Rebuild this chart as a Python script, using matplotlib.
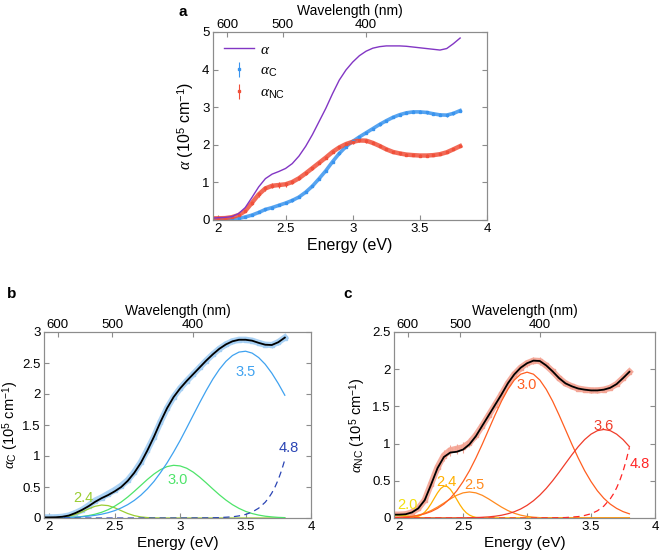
import numpy as np
import matplotlib
matplotlib.use('Agg')
import matplotlib.pyplot as plt
from matplotlib.ticker import FuncFormatter

plt.rcParams['font.family'] = ['Liberation Sans', 'DejaVu Sans']
plt.rcParams['mathtext.fontset'] = 'custom'
plt.rcParams['mathtext.rm'] = 'Liberation Sans'
plt.rcParams['mathtext.it'] = 'Liberation Serif:italic'
plt.rcParams['mathtext.bf'] = 'Liberation Sans:bold'

# ---------------- data ----------------
energy = [1.95, 2.00, 2.05, 2.10, 2.15, 2.20, 2.25, 2.30, 2.35, 2.40,
          2.45, 2.50, 2.55, 2.60, 2.65, 2.70, 2.75, 2.80, 2.85, 2.90,
          2.95, 3.00, 3.05, 3.10, 3.15, 3.20, 3.25, 3.30, 3.35, 3.40,
          3.45, 3.50, 3.55, 3.60, 3.65, 3.70, 3.75, 3.80]

alpha_total = [0.05, 0.06, 0.07, 0.09, 0.17, 0.33, 0.60, 0.88, 1.10, 1.22,
               1.29, 1.37, 1.50, 1.70, 1.96, 2.27, 2.62, 2.97, 3.36, 3.72,
               3.99, 4.20, 4.37, 4.49, 4.57, 4.61, 4.63, 4.63, 4.63, 4.62,
               4.60, 4.58, 4.56, 4.54, 4.52, 4.56, 4.69, 4.84]

alpha_C = [0.01, 0.01, 0.012, 0.02, 0.04, 0.08, 0.13, 0.20, 0.28, 0.33,
           0.39, 0.45, 0.52, 0.61, 0.74, 0.90, 1.10, 1.31, 1.55, 1.77,
           1.95, 2.09, 2.21, 2.32, 2.43, 2.54, 2.64, 2.73, 2.80, 2.85,
           2.875, 2.875, 2.86, 2.825, 2.795, 2.79, 2.835, 2.91]
err_C = [0.01, 0.01, 0.01, 0.01, 0.01, 0.02, 0.02, 0.02, 0.03, 0.03,
         0.03, 0.03, 0.03, 0.03, 0.03, 0.03, 0.03, 0.03, 0.03, 0.03,
         0.03, 0.03, 0.03, 0.03, 0.03, 0.03, 0.03, 0.03, 0.04, 0.04,
         0.04, 0.04, 0.04, 0.04, 0.04, 0.04, 0.04, 0.04]

alpha_NC = [0.045, 0.045, 0.05, 0.075, 0.13, 0.24, 0.46, 0.68, 0.84, 0.91,
            0.93, 0.95, 1.01, 1.11, 1.24, 1.38, 1.52, 1.66, 1.81, 1.93,
            2.02, 2.08, 2.115, 2.11, 2.05, 1.97, 1.88, 1.81, 1.77, 1.74,
            1.725, 1.715, 1.715, 1.725, 1.75, 1.80, 1.88, 1.965]
err_NC = [0.01, 0.01, 0.01, 0.01, 0.02, 0.03, 0.05, 0.06, 0.07, 0.07,
          0.07, 0.07, 0.06, 0.05, 0.04, 0.04, 0.04, 0.04, 0.04, 0.04,
          0.05, 0.05, 0.05, 0.05, 0.04, 0.04, 0.03, 0.03, 0.03, 0.03,
          0.03, 0.03, 0.03, 0.03, 0.03, 0.03, 0.03, 0.03]

fit_C = [0.01, 0.01, 0.012, 0.02, 0.04, 0.08, 0.13, 0.19, 0.26, 0.32,
         0.37, 0.43, 0.50, 0.60, 0.73, 0.89, 1.09, 1.31, 1.55, 1.77,
         1.95, 2.09, 2.21, 2.32, 2.43, 2.54, 2.64, 2.73, 2.80, 2.85,
         2.875, 2.875, 2.86, 2.825, 2.795, 2.79, 2.835, 2.91]

fit_NC = [0.045, 0.045, 0.05, 0.075, 0.13, 0.24, 0.45, 0.67, 0.82, 0.88,
          0.89, 0.92, 0.99, 1.10, 1.24, 1.38, 1.52, 1.66, 1.81, 1.93,
          2.02, 2.08, 2.115, 2.11, 2.05, 1.97, 1.88, 1.81, 1.77, 1.74,
          1.725, 1.715, 1.715, 1.725, 1.75, 1.80, 1.88, 1.965]

# ---- Gaussian components of alpha_C (panel b) ----
cC24_E = [1.95, 2.00, 2.05, 2.10, 2.15, 2.20, 2.25, 2.30, 2.35, 2.40,
          2.45, 2.50, 2.55, 2.60, 2.65, 2.70, 2.75, 2.80, 2.90, 3.80]
cC24 = [0.0, 0.002, 0.005, 0.012, 0.028, 0.057, 0.098, 0.147, 0.189, 0.209,
        0.200, 0.165, 0.118, 0.072, 0.038, 0.017, 0.007, 0.002, 0.0, 0.0]

cC30 = [0.001, 0.001, 0.002, 0.0045, 0.008, 0.014, 0.024, 0.039, 0.061, 0.092,
        0.134, 0.19, 0.258, 0.339, 0.43, 0.526, 0.622, 0.709, 0.78, 0.829,
        0.85, 0.84, 0.803, 0.74, 0.658, 0.565, 0.468, 0.374, 0.289, 0.215,
        0.155, 0.107, 0.072, 0.047, 0.029, 0.018, 0.010, 0.006]

cC35 = [0.0014, 0.0023, 0.0037, 0.0057, 0.0088, 0.013, 0.020, 0.030, 0.043, 0.061,
        0.086, 0.119, 0.162, 0.216, 0.284, 0.368, 0.470, 0.589, 0.732, 0.888,
        1.063, 1.25, 1.452, 1.658, 1.862, 2.058, 2.24, 2.398, 2.527, 2.621,
        2.676, 2.69, 2.66, 2.588, 2.48, 2.338, 2.169, 1.98]

cC48_E = [1.95, 2.5, 3.0, 3.2, 3.3, 3.4, 3.45, 3.5, 3.55, 3.6, 3.65,
          3.675, 3.7, 3.725, 3.75, 3.775, 3.8]
cC48 = [0.0, 0.0, 0.0, 0.002, 0.006, 0.019, 0.034, 0.057, 0.096, 0.158, 0.254,
        0.32, 0.401, 0.50, 0.62, 0.766, 0.94]

# ---- Gaussian components of alpha_NC (panel c) ----
cN20_E = [1.95, 2.00, 2.05, 2.10, 2.15, 2.20, 2.25, 3.80]
cN20 = [0.03, 0.035, 0.03, 0.018, 0.008, 0.002, 0.0, 0.0]

cN24_E = [1.95, 2.05, 2.10, 2.15, 2.175, 2.20, 2.225, 2.25, 2.275, 2.30,
          2.325, 2.35, 2.375, 2.40, 2.425, 2.45, 2.475, 2.50, 2.525, 2.55,
          2.575, 2.60, 2.65, 2.70, 3.80]
cN24 = [0.0, 0.001, 0.005, 0.023, 0.044, 0.078, 0.128, 0.192, 0.266, 0.338,
        0.396, 0.427, 0.424, 0.386, 0.324, 0.251, 0.178, 0.116, 0.070, 0.039,
        0.020, 0.009, 0.002, 0.0, 0.0]

cN25_E = [1.95, 2.00, 2.05, 2.10, 2.15, 2.20, 2.25, 2.30, 2.35, 2.40,
          2.45, 2.50, 2.55, 2.60, 2.65, 2.70, 2.75, 2.80, 2.85, 2.90,
          2.95, 3.00, 3.05, 3.10, 3.15, 3.20, 3.30, 3.80]
cN25 = [0.0024, 0.0052, 0.011, 0.021, 0.038, 0.064, 0.100, 0.147, 0.201, 0.256,
        0.305, 0.338, 0.35, 0.338, 0.305, 0.256, 0.201, 0.147, 0.100, 0.064,
        0.038, 0.021, 0.011, 0.005, 0.0024, 0.001, 0.0, 0.0]

cN30 = [0.004, 0.0075, 0.013, 0.022, 0.035, 0.056, 0.086, 0.129, 0.187, 0.265,
        0.365, 0.49, 0.636, 0.806, 0.992, 1.189, 1.385, 1.57, 1.729, 1.854,
        1.933, 1.96, 1.933, 1.854, 1.729, 1.57, 1.385, 1.189, 0.992, 0.806,
        0.636, 0.49, 0.365, 0.265, 0.187, 0.129, 0.086, 0.056]

cN36_E = [1.95, 2.40, 2.50, 2.60, 2.70, 2.75, 2.80, 2.85, 2.90, 2.95,
          3.00, 3.05, 3.10, 3.15, 3.20, 3.25, 3.30, 3.35, 3.40, 3.45,
          3.50, 3.55, 3.60, 3.65, 3.70, 3.75, 3.80]
cN36 = [0.0, 0.0005, 0.002, 0.005, 0.015, 0.024, 0.037, 0.057, 0.084, 0.121,
        0.170, 0.232, 0.308, 0.398, 0.501, 0.614, 0.732, 0.849, 0.959, 1.054,
        1.127, 1.174, 1.19, 1.174, 1.127, 1.054, 0.959]

cN48_E = [1.95, 3.0, 3.2, 3.3, 3.4, 3.45, 3.5, 3.55, 3.6, 3.65,
          3.675, 3.7, 3.725, 3.75, 3.775, 3.8]
cN48 = [0.0, 0.0, 0.002, 0.006, 0.019, 0.034, 0.057, 0.097, 0.16, 0.257,
        0.323, 0.405, 0.505, 0.627, 0.775, 0.95]

wavelength_ticks = [600, 500, 400]
HC = 1239.84  # eV nm

# ---------------- styling ----------------
PURPLE = '#8236C4'
BLUE = '#3A94EE'
RED = '#F0503A'
BLUE_LIGHT = '#A4CFF4'
RED_LIGHT = '#F4A494'
SPINE = '#8C8C8C'

fig = plt.figure(figsize=(6.6, 5.6), dpi=100)
fmt = FuncFormatter(lambda v, p: f'{v:g}')


def style_axes(ax, ylim, yticks, xfs=11):
    ax.set_xlim(1.96, 4)
    ax.set_ylim(*ylim)
    ax.set_xticks([2, 2.5, 3, 3.5, 4])
    ax.set_yticks(yticks)
    ax.xaxis.set_major_formatter(fmt)
    ax.yaxis.set_major_formatter(fmt)
    ax.tick_params(direction='in', length=3.5, width=0.8, colors=SPINE,
                   labelcolor='black', labelsize=9.5, right=True, top=False, pad=2.5)
    for s in ax.spines.values():
        s.set_color(SPINE)
        s.set_linewidth(0.8)
    ax.set_xlabel('Energy (eV)', fontsize=xfs, labelpad=1.5)
    top = ax.twiny()
    top.set_xlim(ax.get_xlim())
    top.set_xticks([HC / w for w in wavelength_ticks])
    top.set_xticklabels([str(w) for w in wavelength_ticks])
    top.tick_params(direction='in', length=3.5, width=0.8, colors=SPINE,
                    labelcolor='black', labelsize=9.5, pad=1.0)
    for s in top.spines.values():
        s.set_color(SPINE)
        s.set_linewidth(0.8)
    top.set_xlabel('Wavelength (nm)', fontsize=10, labelpad=2.5)
    return top


# ---------------- panel a ----------------
axa = fig.add_axes([213 / 660, 1 - 220 / 560, 274 / 660, 188 / 560])
style_axes(axa, (0, 5), [0, 1, 2, 3, 4, 5], xfs=11.5)
axa.plot(energy, alpha_C, color=BLUE, lw=2.6, alpha=0.85, zorder=2)
ebC = axa.errorbar(energy, alpha_C, yerr=err_C, fmt='s', ms=1.8, color=BLUE,
                   elinewidth=0.8, capsize=0, zorder=3)
axa.plot(energy, alpha_NC, color=RED, lw=3.2, alpha=0.85, zorder=2)
ebN = axa.errorbar(energy, alpha_NC, yerr=err_NC, fmt='s', ms=1.8, color=RED,
                   elinewidth=0.8, capsize=0, zorder=3)
la, = axa.plot(energy, alpha_total, color=PURPLE, lw=1.0, zorder=4)
axa.set_ylabel(r'$\alpha$ (10$^5$ cm$^{-1}$)', fontsize=11.5, labelpad=4)
axa.legend([la, ebC, ebN], [r'$\alpha$', r'$\alpha_\mathrm{C}$', r'$\alpha_\mathrm{NC}$'],
           loc='upper left', frameon=False, fontsize=11, handlelength=2.0,
           borderaxespad=0.3, labelspacing=0.45, handletextpad=0.4)

# ---------------- panel b ----------------
axb = fig.add_axes([44 / 660, 1 - 518 / 560, 267 / 660, 186 / 560])
style_axes(axb, (0, 3), [0, 0.5, 1, 1.5, 2, 2.5, 3])
axb.set_ylabel(r'$\alpha_\mathrm{C}$ (10$^5$ cm$^{-1}$)', fontsize=10.5, labelpad=1)
axb.plot(energy, alpha_C, color=BLUE_LIGHT, lw=4.5, alpha=0.9, zorder=2)
axb.errorbar(energy, alpha_C, yerr=err_C, fmt='s', ms=2.2, mfc='none',
             mec=BLUE_LIGHT, ecolor=BLUE_LIGHT, elinewidth=0.8, capsize=0, zorder=2)
compsC = [
    (cC24_E, cC24, '#9ACD32', '-', '2.4', 2.26, 0.33),
    (energy, cC30, '#4EE46A', '-', '3.0', 2.985, 0.61),
    (energy, cC35, '#3FA2F0', '-', '3.5', 3.50, 2.36),
    (cC48_E, cC48, '#2A44B4', (0, (5, 3.5)), '4.8', 3.83, 1.13),
]
for xe, ye, col, ls, lab, tx, ty in compsC:
    axb.plot(xe, ye, color=col, lw=0.9, ls=ls, zorder=3)
    axb.text(tx, ty, lab, color=col, fontsize=10.5, ha='center', va='center')
axb.plot(energy, fit_C, color='black', lw=1.3, zorder=4)

# ---------------- panel c ----------------
axc = fig.add_axes([394 / 660, 1 - 518 / 560, 261 / 660, 186 / 560])
style_axes(axc, (0, 2.5), [0, 0.5, 1, 1.5, 2, 2.5])
axc.set_ylabel(r'$\alpha_\mathrm{NC}$ (10$^5$ cm$^{-1}$)', fontsize=10.5, labelpad=3)
axc.plot(energy, alpha_NC, color=RED_LIGHT, lw=4.5, alpha=0.9, zorder=2)
axc.errorbar(energy, alpha_NC, yerr=err_NC, fmt='s', ms=2.2, mfc='none',
             mec=RED_LIGHT, ecolor=RED_LIGHT, elinewidth=0.8, capsize=0, zorder=2)
compsN = [
    (cN20_E, cN20, '#F2DF10', '-', '2.0', 2.065, 0.17),
    (cN24_E, cN24, '#FFB000', '-', '2.4', 2.37, 0.49),
    (cN25_E, cN25, '#FF8A1E', '-', '2.5', 2.59, 0.45),
    (energy, cN30, '#FF5E20', '-', '3.0', 3.0, 1.79),
    (cN36_E, cN36, '#F03C2A', '-', '3.6', 3.6, 1.23),
    (cN48_E, cN48, '#FF2626', (0, (5, 3.5)), '4.8', 3.88, 0.72),
]
for xe, ye, col, ls, lab, tx, ty in compsN:
    axc.plot(xe, ye, color=col, lw=0.9, ls=ls, zorder=3)
    axc.text(tx, ty, lab, color=col, fontsize=10.5, ha='center', va='center')
axc.plot(energy, fit_NC, color='black', lw=1.3, zorder=4)

# panel letters
fig.text(183 / 660, 1 - 12 / 560, 'a', fontsize=11, fontweight='bold', ha='center', va='center')
fig.text(12 / 660, 1 - 294 / 560, 'b', fontsize=11, fontweight='bold', ha='center', va='center')
fig.text(348 / 660, 1 - 294 / 560, 'c', fontsize=11, fontweight='bold', ha='center', va='center')

fig.savefig('out.png', dpi=100)
